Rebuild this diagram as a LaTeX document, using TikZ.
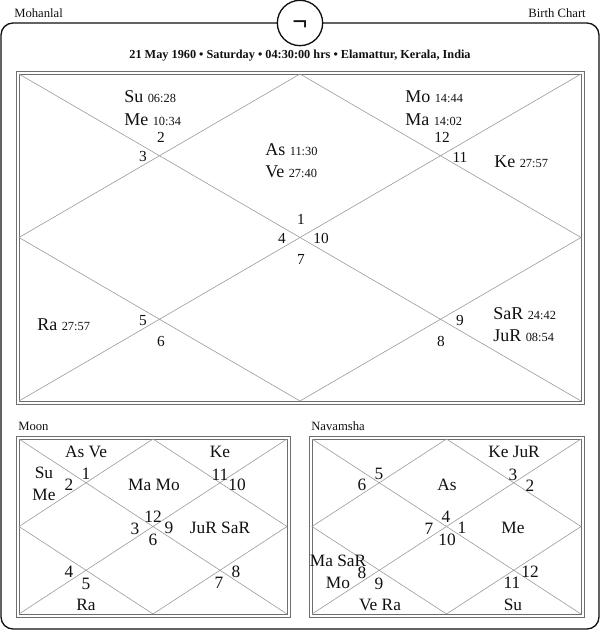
\documentclass[tikz,border=0pt]{standalone}
\usepackage{fontspec}
\setmainfont{Liberation Serif}
\usepackage{xcolor}
\definecolor{fgrid}{HTML}{9A9A9A}
\definecolor{fbox}{HTML}{6E6E6E}
\definecolor{fink}{HTML}{101010}
\newcommand{\degr}[1]{{\fontsize{9.3}{10}\selectfont #1}}
\begin{document}
\begin{tikzpicture}[x=0.75pt,y=-0.75pt,text=fink,
  frame/.style={draw=fink,line width=1pt},
  boxline/.style={draw=fbox,line width=0.6pt},
  grid/.style={draw=fgrid,line width=0.45pt},
  head/.style={font=\fontsize{9.5}{11}\selectfont,inner sep=0pt},
  big/.style={font=\fontsize{13.5}{15}\selectfont,inner sep=0pt},
  num/.style={font=\fontsize{11.5}{13}\selectfont,inner sep=0pt},
  small/.style={font=\fontsize{13}{15}\selectfont,inner sep=0pt}]
\useasboundingbox (0,0) rectangle (600,630);

% ================= frame and header =================
\draw[frame,rounded corners=9pt] (1,23) rectangle (599,629);
\draw[frame,fill=white] (300,23) circle (17pt);
\node[inner sep=0pt,font=\fontsize{20}{22}\selectfont\bfseries] (sign) at (300,26) {¬};
\node[head,anchor=west] (name) at (14,13) {Mohanlal};
\node[head,anchor=east] (kind) at (586,13) {Birth Chart};
\node[inner sep=0pt,font=\fontsize{9.2}{11}\selectfont\bfseries] (title) at (300,56) {21 May 1960 • Saturday • 04:30:00 hrs • Elamattur, Kerala, India};

% ================= birth chart =================
\draw[boxline] (16,71) rectangle (584,404);
\draw[boxline] (19,74) rectangle (581,401);
\draw[grid] (19,74) -- (581,401);
\draw[grid] (19,401) -- (581,74);
\draw[grid] (300,74) -- (581,237.5) -- (300,401) -- (19,237.5) -- cycle;
% planets
\node[big,anchor=west] (su) at (124,97) {Su \degr{06:28}};
\node[big,anchor=west] (me) at (124,120) {Me \degr{10:34}};
\node[big,anchor=west] (mo) at (405,97) {Mo \degr{14:44}};
\node[big,anchor=west] (ma) at (405,120) {Ma \degr{14:02}};
\node[big,anchor=west] (as) at (265,150) {As \degr{11:30}};
\node[big,anchor=west] (ve) at (265,172) {Ve \degr{27:40}};
\node[big,anchor=west] (ke) at (494,162) {Ke \degr{27:57}};
\node[big,anchor=west] (ra) at (37,325) {Ra \degr{27:57}};
\node[big,anchor=west] (sa) at (493,314) {SaR \degr{24:42}};
\node[big,anchor=west] (ju) at (493,336) {JuR \degr{08:54}};
% houses
\node[num] (h1) at (301,219) {1};
\node[num] (h2) at (161,137) {2};
\node[num] (h3) at (143,157) {3};
\node[num] (h4) at (282,238) {4};
\node[num] (h5) at (143,321) {5};
\node[num] (h6) at (161,341) {6};
\node[num] (h7) at (301,259) {7};
\node[num] (h8) at (441,341) {8};
\node[num] (h9) at (460,320) {9};
\node[num] (h10) at (321,238) {10};
\node[num] (h11) at (460,157) {11};
\node[num] (h12) at (442,137) {12};

% ================= moon chart =================
\node[head,anchor=west] (moon) at (18,426) {Moon};
\draw[boxline] (16,436) rectangle (290,617);
\draw[boxline] (19,439) rectangle (287,614);
\draw[grid] (19,439) -- (287,614);
\draw[grid] (19,614) -- (287,439);
\draw[grid] (153,439) -- (287,526.5) -- (153,614) -- (19,526.5) -- cycle;
\node[small] (ma1) at (86,452) {As Ve};
\node[small] (ma2) at (220,452) {Ke};
\node[small] (ma3) at (44,473) {Su};
\node[small] (ma4) at (44,495) {Me};
\node[small] (ma5) at (154,485) {Ma Mo};
\node[small] (ma6) at (220,528) {JuR SaR};
\node[small] (ma7) at (86,605) {Ra};
\node[small] (mh1) at (86,474) {1};
\node[small] (mh2) at (69,485) {2};
\node[small] (mh3) at (135,529) {3};
\node[small] (mh4) at (69,572) {4};
\node[small] (mh5) at (86,584) {5};
\node[small] (mh6) at (153,540) {6};
\node[small] (mh7) at (219,583) {7};
\node[small] (mh8) at (236,572) {8};
\node[small] (mh9) at (169,528) {9};
\node[small] (mh10) at (237,485) {10};
\node[small] (mh11) at (220,475) {11};
\node[small] (mh12) at (153,517) {12};

% ================= navamsha chart =================
\node[head,anchor=west] (nava) at (311,426) {Navamsha};
\draw[boxline] (309,436) rectangle (584,617);
\draw[boxline] (312,439) rectangle (581,614);
\draw[grid] (312,439) -- (581,614);
\draw[grid] (312,614) -- (581,439);
\draw[grid] (446.5,439) -- (581,526.5) -- (446.5,614) -- (312,526.5) -- cycle;
\node[small] (na1) at (514,452) {Ke JuR};
\node[small] (na2) at (447,485) {As};
\node[small] (na3) at (513,528) {Me};
\node[small] (na4) at (338,561) {Ma SaR};
\node[small] (na5) at (338,583) {Mo};
\node[small] (na6) at (380,605) {Ve Ra};
\node[small] (na7) at (513,605) {Su};
\node[small] (nh1) at (462,528) {1};
\node[small] (nh2) at (530,486) {2};
\node[small] (nh3) at (513,475) {3};
\node[small] (nh4) at (446,517) {4};
\node[small] (nh5) at (379,474) {5};
\node[small] (nh6) at (362,485) {6};
\node[small] (nh7) at (429,529) {7};
\node[small] (nh8) at (362,573) {8};
\node[small] (nh9) at (379,584) {9};
\node[small] (nh10) at (447,540) {10};
\node[small] (nh11) at (512,583) {11};
\node[small] (nh12) at (530,572) {12};
\end{tikzpicture}
\end{document}
